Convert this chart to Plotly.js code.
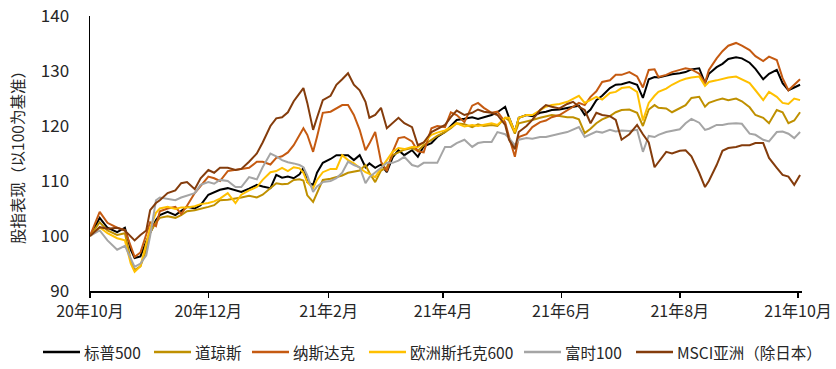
<!DOCTYPE html>
<html>
<head>
<meta charset="utf-8">
<script src="https://cdn.plot.ly/plotly-3.0.1.min.js"></script>
<style>
  html, body { margin: 0; padding: 0; background: #fff; }
  #chart { width: 836px; height: 369px; }
</style>
</head>
<body>
<div id="chart"></div>
<script>
// Dates (shared by all series)
const dates = [
"2020-10-01","2020-10-06","2020-10-10","2020-10-15","2020-10-19","2020-10-22","2020-10-24","2020-10-27","2020-10-30","2020-11-01",
"2020-11-04","2020-11-06","2020-11-10","2020-11-14","2020-11-17","2020-11-20","2020-11-24","2020-11-27","2020-12-01","2020-12-04",
"2020-12-07","2020-12-11","2020-12-15","2020-12-18","2020-12-22","2020-12-26","2020-12-29","2021-01-02","2021-01-05","2021-01-08",
"2021-01-11","2021-01-14","2021-01-17","2021-01-19","2021-01-21","2021-01-24","2021-01-26","2021-01-29","2021-02-02","2021-02-05",
"2021-02-08","2021-02-11","2021-02-14","2021-02-17","2021-02-20","2021-02-22","2021-02-25","2021-02-28","2021-03-03","2021-03-06",
"2021-03-09","2021-03-12","2021-03-16","2021-03-19","2021-03-22","2021-03-26","2021-03-29","2021-04-02","2021-04-05","2021-04-08",
"2021-04-12","2021-04-16","2021-04-19","2021-04-22","2021-04-26","2021-04-29","2021-05-03","2021-05-05","2021-05-08","2021-05-10",
"2021-05-14","2021-05-17","2021-05-21","2021-05-24","2021-05-27","2021-05-31","2021-06-04","2021-06-07","2021-06-10","2021-06-13",
"2021-06-16","2021-06-19","2021-06-22","2021-06-26","2021-06-29","2021-07-02","2021-07-06","2021-07-10","2021-07-13","2021-07-16",
"2021-07-19","2021-07-21","2021-07-25","2021-07-28","2021-08-01","2021-08-04","2021-08-07","2021-08-11","2021-08-14","2021-08-16",
"2021-08-20","2021-08-23","2021-08-26","2021-08-30","2021-09-02","2021-09-06","2021-09-09","2021-09-13","2021-09-16","2021-09-20",
"2021-09-23","2021-09-26","2021-09-29","2021-10-02"
];

const sp500 = [
100,103.3,101.5,100.7,101.5,97.5,96,96.3,99,100.5,
102.9,103.8,104.4,103.8,104.5,105.3,105,105.6,107.5,108,
108.4,108.7,108.3,108,108.6,109.3,109,108.7,111.1,110.6,
110.8,110.5,111.2,112.4,109.8,109.3,111.5,113.3,114,114.7,
114.7,114.7,113.8,114.7,112.5,113.2,112.4,113,111.6,114.3,
115.6,114.7,115.6,114.4,116.3,116.9,118,118.9,120,121.1,
121.3,121.6,121.3,121.6,122,122.5,123.5,121.5,118.9,121.5,
122,121.8,122.4,122.6,122.9,123,123.3,123.5,123.7,122,
123,124.7,125.5,126.9,127.5,127.6,128,127.5,125.1,128.5,
128.9,128.8,129.2,129.4,129.6,129.8,130.3,130.5,127.8,129.5,
130.7,131.3,132.2,132.5,132.3,131.5,130.4,128.5,129.5,130.2,
127.8,126.5,127,127.5
];

const dow = [
100,102.5,101,100.2,100.5,95.6,93.8,94.5,97.5,100.6,
102.5,103.3,103.6,103.3,103.8,104.5,104.7,104.9,105.3,105.6,
106.5,106.6,106.8,107,107.3,107,107.5,108.8,109.6,109.4,
109.5,110.2,110.3,110.1,107.4,106.2,107.8,110.2,110.4,110.7,
111,111.5,111.7,111.9,112.9,111.5,109.8,111.9,112.5,114.7,
115.2,115.7,116,115.5,116.5,117.5,118.2,118.9,119.6,120.5,
120.3,119.8,120.3,120,120.2,120,121.5,121,118.6,120.5,
120.8,121.1,121.5,121.8,122,121.8,121.6,121.6,121.2,118.7,
119.5,120.5,121.2,121.8,122.5,122.9,123,122.4,120,123,
123.8,123.3,123.2,122.5,123.3,123.8,125.1,125.3,123.5,124.2,
124.7,125,124.7,125,124.5,123.4,122,121.5,120.5,122.9,
122.5,120.5,121,122.5
];

const nasdaq = [
100,104.4,102.4,101.5,101.1,98,96.2,97,100.5,102.5,
101.8,104.5,105,105.3,104,105.5,107.8,109,110.8,110.5,
110,111.8,112,112.2,112.4,113.5,113.5,113,114.2,114.5,
115.2,116.5,118.5,119.6,118.4,115.3,118,122.4,122.6,123.2,
123.8,123.8,122,119.3,115.6,116.8,118.9,113.5,111.8,115.3,
117.8,118,117.2,115.4,115.2,119.6,120,119.8,122.5,122,
120.7,123.7,124.2,123.3,122.4,122.6,120.7,118,114.4,118,
118.5,119.8,120.7,121,121.6,122,122.8,123.5,124.2,123.8,
125.3,126.3,128,128.3,129.3,129.3,129.8,129,127,130.2,
130.3,128.9,129.3,129.8,130.2,130.5,130.3,129.5,127.8,130.2,
132.3,133.6,134.6,135.1,134.6,133.8,132.7,131.8,132.6,132,
128.7,126.5,127.5,128.5
];

const stoxx600 = [
100,101.6,100.5,99.6,99.2,95,93.5,94.5,98.7,101.5,
104.2,105,105.3,104.9,105.2,105.2,105.4,105.8,106,106.3,
106.8,107.8,106,107.5,108.3,108.9,110.2,111.6,111.8,112.4,
111.8,112.5,112.3,111.5,109.8,108.7,110.2,111.6,112.2,112.2,
114.7,113.8,113.2,112.4,111.6,111.3,110.7,112.3,113.8,115.3,
116,115.8,116.2,116.2,117,118.4,118.8,119.2,119.8,120.5,
119.9,120.2,120,120.2,120.5,120.2,121.5,121.5,118.9,121.5,
122,122,122.8,123.5,123.8,124,124.4,125,125.5,124.2,
124.7,125.3,124.8,126,126.2,126.9,127.1,126.2,121,124.2,
125.5,126.2,126.8,127.5,128.2,128.6,128.8,129,127.3,128,
128.3,128.6,128.8,129,128.5,127.8,126.5,124.7,126.2,125.3,
124.2,124,125,124.7
];

const ftse100 = [
100,101,99.2,97.5,98.2,96,94.4,95,96.5,100,
106.5,107,106.8,106.5,107,107.4,107.8,109.3,109.8,109.5,
110.2,110,108.9,108.9,110.7,110.3,112.5,115,114.5,113.8,
113.4,113.2,112.9,112.5,111,108,109,109.8,110,110.5,
111.5,113.5,112.9,112.5,109.6,110.7,111.5,112.4,113.3,113.3,
113.7,114.4,112.9,112.6,113.3,113.3,113.3,116.2,116.2,116.9,
117.5,116.2,116.9,117.1,117.1,118.9,118.5,117.8,116.5,117.5,
117.8,117.7,118,118,118.3,118.6,118.9,119.3,119.8,118,
118.5,119,118.8,119.3,119,119.2,119.1,119.3,115.3,118.2,
118,118.4,118.9,119.1,119.4,120.5,121.3,120.6,119.3,119.5,
120.2,120.2,120.4,120.5,120.4,118.6,118.4,117.5,117.2,118.9,
119,118.6,117.8,118.9
];

const msciAsia = [
100,101.6,101.3,101.5,101,99.8,99.2,100.2,101,104.7,
106,106.5,107.8,108.3,109.6,109.8,108.5,110.5,112,111.5,
112.4,112.4,112,112.2,113.5,115,117,120,121.4,121.6,
122.5,124.5,126,126.9,124.2,119.3,121.5,124.7,125.5,127.5,
128.5,129.6,127.5,126.5,124.4,121.5,122,123.3,119.6,120.5,
121.5,120.5,119.8,116.5,117,118.9,119.5,120.2,121.6,122.8,
122,122.4,123,122.6,122.4,122,120.2,117.5,115.8,118.9,
120,121.1,122.9,123.8,123.5,123.2,124,124.4,123.5,122.9,
120.5,122.4,122,121.8,121.1,117.5,118.5,120.2,118.5,117,
112.5,113.5,115.3,115,115.5,115.6,114.5,111.5,108.9,110,
112.9,115.5,116,116.2,116.5,116.5,116.9,116.9,114.2,112.4,
111.1,110.8,109.3,111.1
];

const seriesNames = ["标普500","道琼斯","纳斯达克","欧洲斯托克600","富时100","MSCI亚洲（除日本）"];
const seriesColors = ["#000000","#BF9000","#C55A11","#FFC000","#A5A5A5","#843C0C"];
const seriesValues = [sp500, dow, nasdaq, stoxx600, ftse100, msciAsia];

const tickDates = ["2020-10-01","2020-12-01","2021-02-01","2021-04-01","2021-06-01","2021-08-01","2021-10-01"];
const tickLabels = ["20年10月","20年12月","21年2月","21年4月","21年6月","21年8月","21年10月"];

const font = "'Noto Sans CJK SC', 'Noto Sans', sans-serif";
const textColor = "#262626";

// Page geometry (pixels)
const W = 836, H = 369;
const M = { l: 90, r: 34, t: 16, b: 78 };
const plotW = W - M.l - M.r, plotH = H - M.t - M.b;
const px2x = px => (px - M.l) / plotW;
const py2y = py => (H - M.b - py) / plotH;

// Legend layout (manual, single row under the axis)
const legendLineStart = [43, 154, 252, 369, 524, 636];
const legendLineLen = 37;
const legendRowY = 352;

const traces = seriesValues.map((vals, i) => ({
  type: "scatter",
  mode: "lines",
  x: dates,
  y: vals,
  name: seriesNames[i],
  line: { color: seriesColors[i], width: 2 },
  hoverinfo: "skip",
  showlegend: false
}));

const shapes = seriesNames.map((n, i) => ({
  type: "line",
  xref: "paper", yref: "paper",
  x0: px2x(legendLineStart[i]), x1: px2x(legendLineStart[i] + legendLineLen),
  y0: py2y(legendRowY), y1: py2y(legendRowY),
  line: { color: seriesColors[i], width: 2.5 }
}));

const annotations = seriesNames.map((n, i) => ({
  text: n,
  xref: "paper", yref: "paper",
  x: px2x(legendLineStart[i] + legendLineLen + 2),
  y: py2y(legendRowY),
  xanchor: "left", yanchor: "middle",
  showarrow: false,
  font: { family: font, size: 15.5, color: textColor }
}));

const layout = {
  width: W,
  height: H,
  margin: M,
  paper_bgcolor: "#ffffff",
  plot_bgcolor: "#ffffff",
  font: { family: font, color: textColor, size: 15 },
  showlegend: false,
  shapes: shapes,
  annotations: annotations,
  xaxis: {
    type: "date",
    range: ["2020-10-01", "2021-10-03"],
    tickvals: tickDates,
    ticktext: tickLabels,
    showgrid: false,
    zeroline: false,
    showline: true,
    linecolor: "#000000",
    linewidth: 1.5,
    ticks: "outside",
    ticklen: 5,
    tickwidth: 1.5,
    tickcolor: "#000000",
    tickfont: { family: font, size: 16, color: textColor }
  },
  yaxis: {
    range: [90, 140],
    tickmode: "linear",
    tick0: 90,
    dtick: 10,
    showgrid: false,
    zeroline: false,
    showline: true,
    linecolor: "#000000",
    linewidth: 1.5,
    ticks: "",
    ticklabelstandoff: 16,
    tickfont: { family: font, size: 17, color: textColor },
    title: { text: "股指表现（以100为基准）", font: { family: font, size: 15.5, color: textColor }, standoff: 12 }
  }
};

Plotly.newPlot("chart", traces, layout, { displayModeBar: false, staticPlot: true });
</script>
</body>
</html>
